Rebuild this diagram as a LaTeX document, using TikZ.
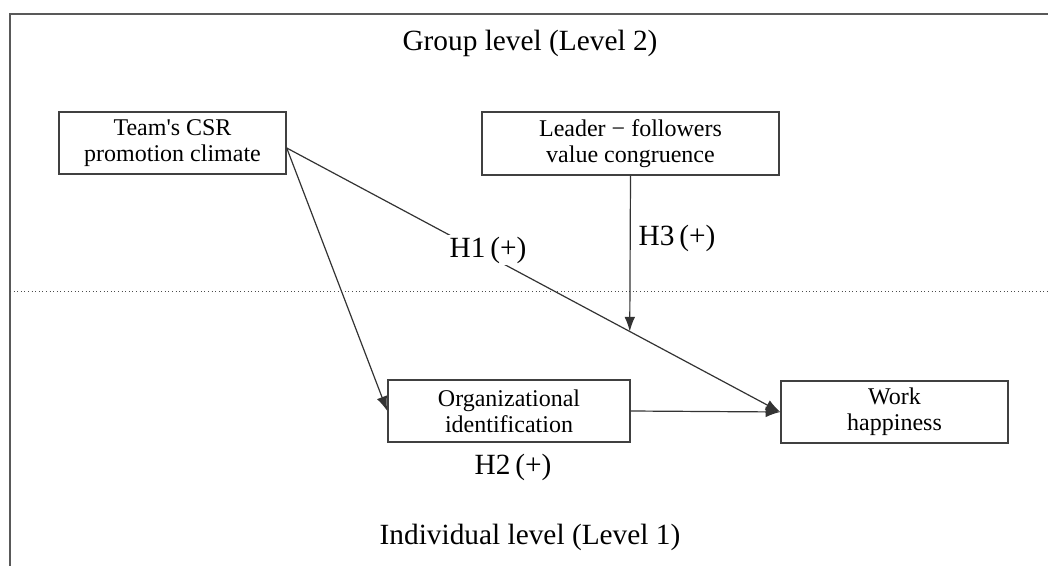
\documentclass[tikz,border=0pt]{standalone}
\usepackage{fontspec}
\setmainfont{Liberation Serif}
\usetikzlibrary{calc,arrows.meta}

\tikzset{
  box/.style={draw=black!75,line width=1.1pt,align=center,inner sep=0pt,
    font=\fontsize{18}{19.5}\selectfont},
  hyp/.style={fill=white,inner sep=1pt,font=\fontsize{22}{24}\selectfont},
  lvl/.style={inner sep=0pt,font=\fontsize{22}{24}\selectfont},
  link/.style={draw=black!80,line width=0.9pt,-{Latex[length=11pt,width=8pt]}}
}

\begin{document}
\begin{tikzpicture}[x=0.75pt,y=-0.75pt]
\useasboundingbox (0,0) rectangle (1048,566);
% frame and level split
\draw[black!65,line width=1.3pt] (1048,14) -- (10,14) -- (10,566);
\draw[black!70,dotted,line width=0.7pt] (10,291) -- (1048,291);
\node[lvl] (grp) at (530,43) {Group level (Level 2)};
\node[lvl] (ind) at (530,537) {Individual level (Level 1)};
% variables
\node[box,minimum width=170.25pt,minimum height=46.5pt] (csr) at (172.5,143) {Team\textquotesingle s CSR\\promotion climate};
\node[box,minimum width=222.75pt,minimum height=47.25pt] (vc) at (630.5,143.5) {Leader − followers\\value congruence};
\node[box,minimum width=181.5pt,minimum height=46.5pt] (oid) at (509,411) {Organizational\\identification};
\node[box,minimum width=170.25pt,minimum height=46.5pt] (wh) at (894.5,412) {Work\\happiness};
% paths
\coordinate (src) at ($(csr.east)+(0,5)$);
\coordinate (mod) at ($(src)!0.695!(wh.west)$);
\draw[link] (src) -- (wh.west);
\draw[link] (src) -- (oid.west);
\draw[link] (oid.east) -- (wh.west);
\draw[link] (vc.south) -- (mod);
\node[hyp] (h1) at (488,250) {H1\,(+)};
\node[hyp] (h3) at (677,238) {H3\,(+)};
\node[hyp] (h2) at (513,467) {H2\,(+)};
\end{tikzpicture}
\end{document}
